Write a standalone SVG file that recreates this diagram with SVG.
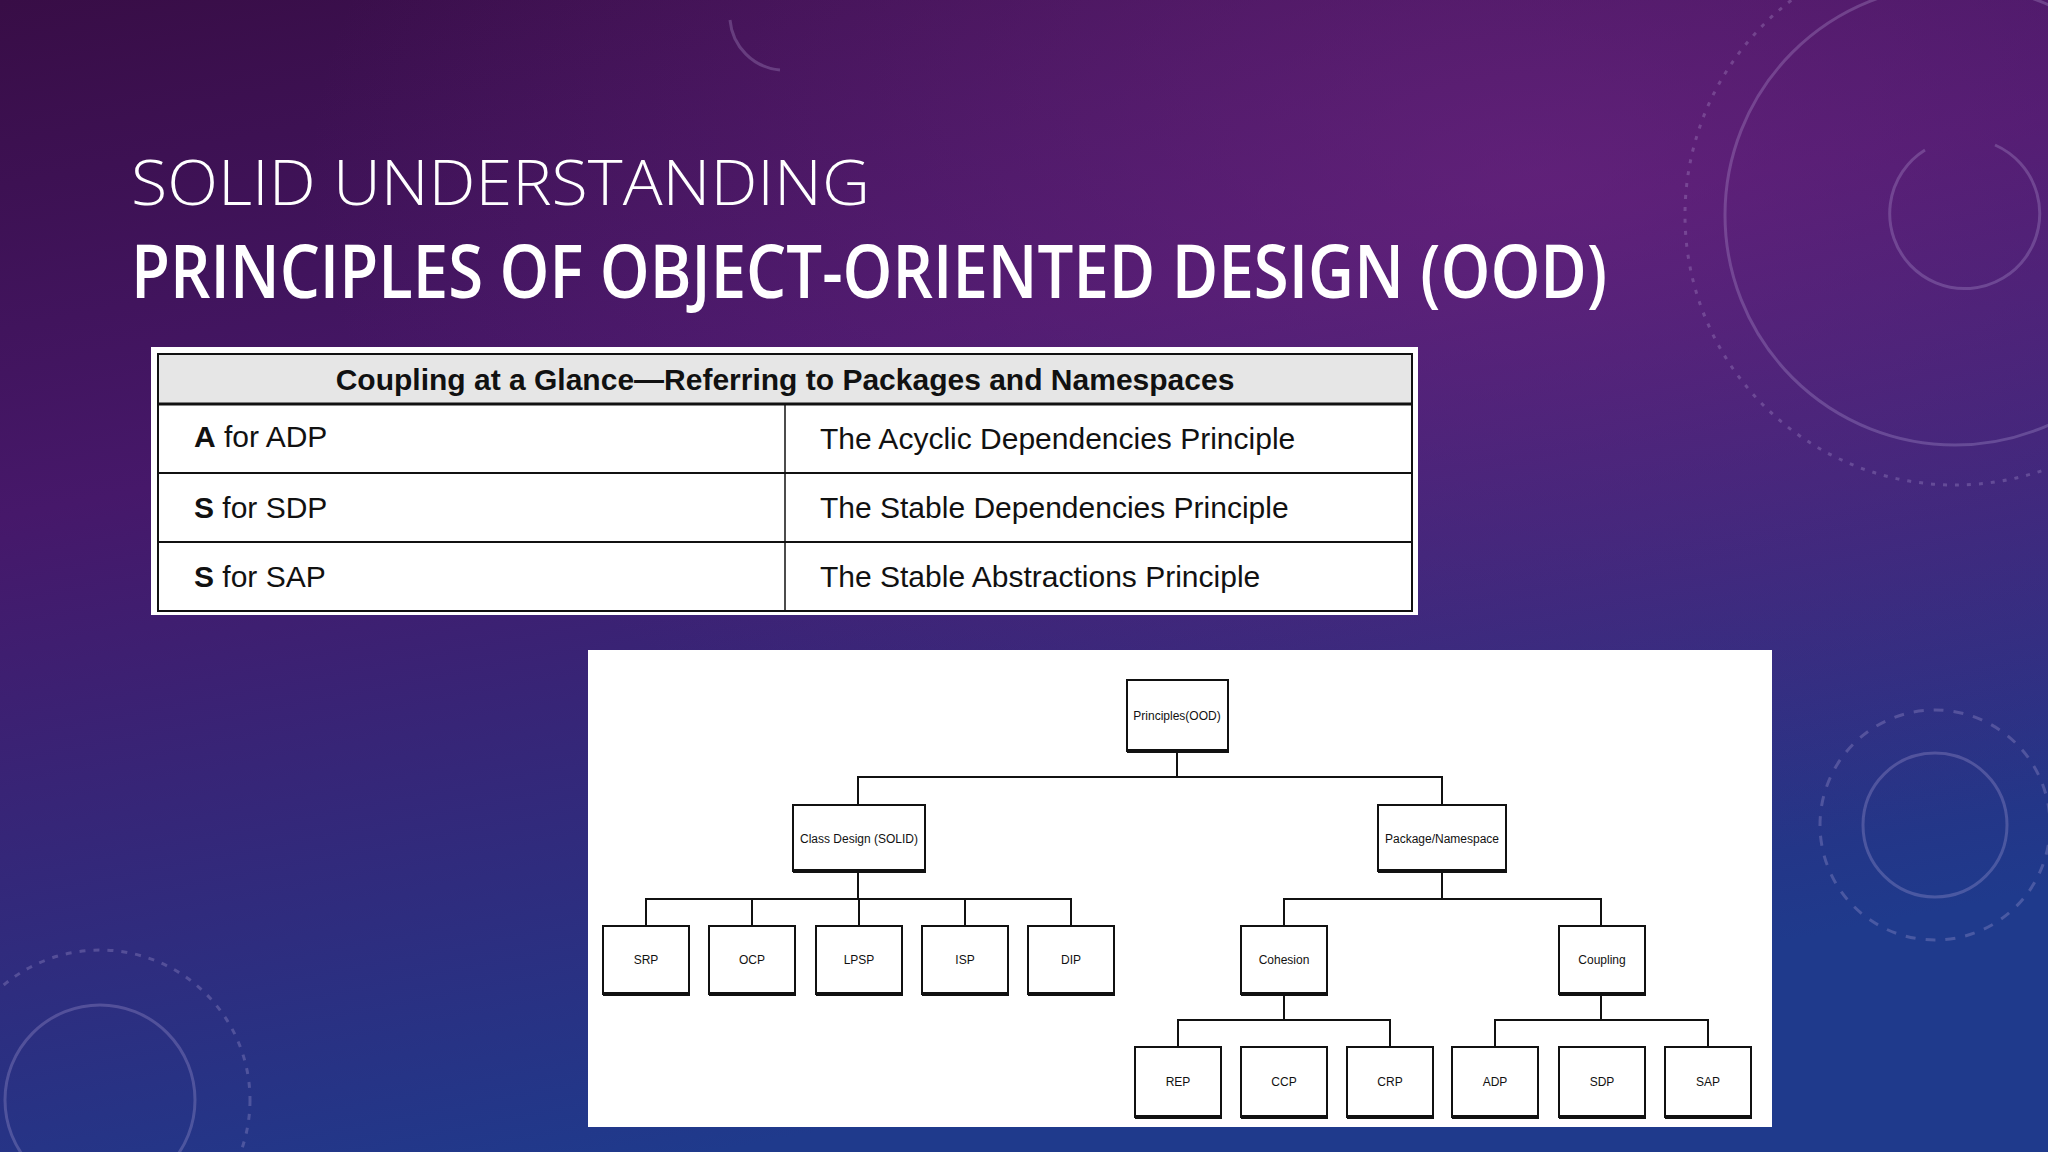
<svg xmlns="http://www.w3.org/2000/svg" width="2048" height="1152" viewBox="0 0 2048 1152">
<defs>
<linearGradient id="bg" x1="0" y1="0" x2="0.35" y2="1">
<stop offset="0" stop-color="#380d46"/>
<stop offset="0.4" stop-color="#46186a"/>
<stop offset="1" stop-color="#1f3a8c"/>
</linearGradient>
<radialGradient id="glow" cx="0.75" cy="0.15" r="0.6">
<stop offset="0" stop-color="#7a2a8a" stop-opacity="0.5"/>
<stop offset="1" stop-color="#7a2a8a" stop-opacity="0"/>
</radialGradient>
<style>
.t{font-family:"Open Sans","Liberation Sans",sans-serif;fill:#fff}
.tb{font-family:"Liberation Sans",Arial,sans-serif;fill:#111;font-size:30px}
.n rect{fill:#fff;stroke:#111;stroke-width:2}
.n line{stroke:#111;stroke-width:4}
.n text{font-family:"Liberation Sans",Arial,sans-serif;font-size:12px;fill:#111;text-anchor:middle}
.c{stroke:#111;stroke-width:2;fill:none}
.deco{fill:none;stroke:#c9b8e8;stroke-opacity:0.25;stroke-width:3}
</style>
</defs>
<rect width="2048" height="1152" fill="url(#bg)"/>
<rect width="2048" height="1152" fill="url(#glow)"/>
<g class="deco">
<circle cx="1955" cy="215" r="230"/>
<circle cx="1955" cy="215" r="270" stroke-dasharray="4 8"/>
<path d="M1995 145 A75 75 0 1 1 1925 150"/>
<circle cx="1935" cy="825" r="72"/>
<circle cx="1935" cy="825" r="115" stroke-dasharray="10 10"/>
<path d="M730 20 A55 55 0 0 0 780 70"/>
<circle cx="100" cy="1100" r="95"/>
<circle cx="100" cy="1100" r="150" stroke-dasharray="6 8"/>
</g>
<text class="t" x="131" y="205" font-size="62" font-weight="300" textLength="739" lengthAdjust="spacingAndGlyphs">SOLID UNDERSTANDING</text>
<text class="t" x="131" y="298" font-size="74" font-weight="600" textLength="1476" lengthAdjust="spacingAndGlyphs">PRINCIPLES OF OBJECT-ORIENTED DESIGN (OOD)</text>
<g id="table">
<rect x="151" y="347" width="1267" height="268" fill="#fff"/>
<rect x="158" y="354" width="1254" height="50" fill="#e6e6e6"/>
<rect x="158" y="354" width="1254" height="257" fill="none" stroke="#111" stroke-width="2"/>
<line x1="158" y1="404" x2="1412" y2="404" stroke="#111" stroke-width="3"/>
<line x1="158" y1="473" x2="1412" y2="473" stroke="#111" stroke-width="2"/>
<line x1="158" y1="542" x2="1412" y2="542" stroke="#111" stroke-width="2"/>
<line x1="785" y1="404" x2="785" y2="611" stroke="#111" stroke-width="1.5"/>
<text class="tb" x="785" y="390" text-anchor="middle" font-weight="bold">Coupling at a Glance—Referring to Packages and Namespaces</text>
<text class="tb" x="194" y="447"><tspan font-weight="bold">A</tspan> for ADP</text>
<text class="tb" x="194" y="518"><tspan font-weight="bold">S</tspan> for SDP</text>
<text class="tb" x="194" y="587"><tspan font-weight="bold">S</tspan> for SAP</text>
<text class="tb" x="820" y="449">The Acyclic Dependencies Principle</text>
<text class="tb" x="820" y="518">The Stable Dependencies Principle</text>
<text class="tb" x="820" y="587">The Stable Abstractions Principle</text>
</g>
<rect x="588" y="650" width="1184" height="477" fill="#fff"/>
<g id="connectors">
<path class="c" d="M1177 751V777M858 805V777H1442V805"/>
<path class="c" d="M858 871V899M646 926V899H1071V926M752 899V926M859 899V926M965 899V926"/>
<path class="c" d="M1442 871V899M1284 926V899H1601V926"/>
<path class="c" d="M1284 994V1020M1178 1047V1020H1390V1047"/>
<path class="c" d="M1601 994V1020M1495 1047V1020H1708V1047"/>
</g>
<g id="root" class="n"><rect x="1127" y="680" width="101" height="71"/><line x1="1127" y1="751" x2="1229" y2="751"/><text x="1177" y="720">Principles(OOD)</text></g>
<g id="class" class="n"><rect x="793" y="805" width="132" height="66"/><line x1="793" y1="871" x2="926" y2="871"/><text x="859" y="843">Class Design (SOLID)</text></g>
<g id="pkg" class="n"><rect x="1378" y="805" width="128" height="66"/><line x1="1378" y1="871" x2="1507" y2="871"/><text x="1442" y="843">Package/Namespace</text></g>
<g id="srp" class="n"><rect x="603" y="926" width="86" height="68"/><line x1="603" y1="994" x2="690" y2="994"/><text x="646" y="964">SRP</text></g>
<g id="ocp" class="n"><rect x="709" y="926" width="86" height="68"/><line x1="709" y1="994" x2="796" y2="994"/><text x="752" y="964">OCP</text></g>
<g id="lpsp" class="n"><rect x="816" y="926" width="86" height="68"/><line x1="816" y1="994" x2="903" y2="994"/><text x="859" y="964">LPSP</text></g>
<g id="isp" class="n"><rect x="922" y="926" width="86" height="68"/><line x1="922" y1="994" x2="1009" y2="994"/><text x="965" y="964">ISP</text></g>
<g id="dip" class="n"><rect x="1028" y="926" width="86" height="68"/><line x1="1028" y1="994" x2="1115" y2="994"/><text x="1071" y="964">DIP</text></g>
<g id="cohesion" class="n"><rect x="1241" y="926" width="86" height="68"/><line x1="1241" y1="994" x2="1328" y2="994"/><text x="1284" y="964">Cohesion</text></g>
<g id="coupling" class="n"><rect x="1559" y="926" width="86" height="68"/><line x1="1559" y1="994" x2="1646" y2="994"/><text x="1602" y="964">Coupling</text></g>
<g id="rep" class="n"><rect x="1135" y="1047" width="86" height="70"/><line x1="1135" y1="1117" x2="1222" y2="1117"/><text x="1178" y="1086">REP</text></g>
<g id="ccp" class="n"><rect x="1241" y="1047" width="86" height="70"/><line x1="1241" y1="1117" x2="1328" y2="1117"/><text x="1284" y="1086">CCP</text></g>
<g id="crp" class="n"><rect x="1347" y="1047" width="86" height="70"/><line x1="1347" y1="1117" x2="1434" y2="1117"/><text x="1390" y="1086">CRP</text></g>
<g id="adp" class="n"><rect x="1452" y="1047" width="86" height="70"/><line x1="1452" y1="1117" x2="1539" y2="1117"/><text x="1495" y="1086">ADP</text></g>
<g id="sdp" class="n"><rect x="1559" y="1047" width="86" height="70"/><line x1="1559" y1="1117" x2="1646" y2="1117"/><text x="1602" y="1086">SDP</text></g>
<g id="sap" class="n"><rect x="1665" y="1047" width="86" height="70"/><line x1="1665" y1="1117" x2="1752" y2="1117"/><text x="1708" y="1086">SAP</text></g>
</svg>
